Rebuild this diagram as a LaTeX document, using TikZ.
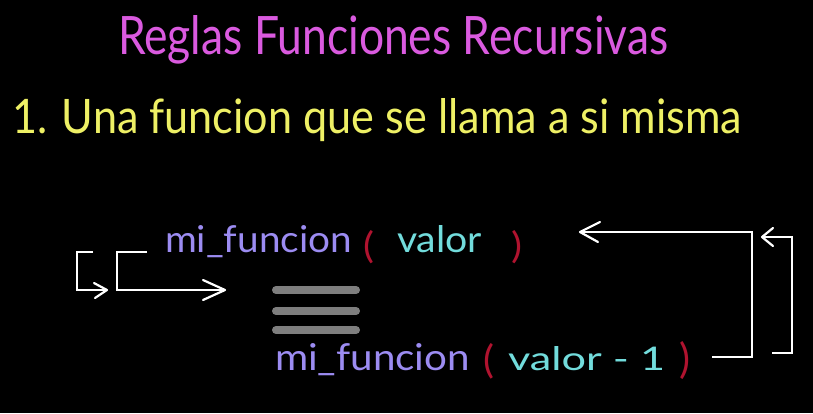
\documentclass[tikz,border=0pt]{standalone}
\usepackage{fontspec}
\setmainfont{Lato}
\usepackage{graphicx}
\definecolor{titlec}{HTML}{DA5ADF}
\definecolor{ylw}{HTML}{EEF065}
\definecolor{lav}{HTML}{9C8CF2}
\definecolor{cyn}{HTML}{72DCDC}
\definecolor{par}{HTML}{B0132F}
\definecolor{bar}{HTML}{7E7E7E}
\tikzset{
  txt/.style={anchor=base west, inner sep=0pt, outer sep=0pt},
  wire/.style={draw=white, line width=2.2pt, line join=miter, line cap=butt},
  head/.style={draw=white, line width=2.2pt, line join=round, line cap=round},
  barline/.style={draw=bar, line width=8pt, line cap=round}
}
\begin{document}
\begin{tikzpicture}[x=1pt,y=-1pt]
\fill[black] (0,0) rectangle (813,413);
\useasboundingbox (0,0) rectangle (813,413);
% title
\node[txt, text=titlec] (title) at (118,54) {\resizebox{550pt}{39pt}{Reglas Funciones Recursivas}};
% rule 1
\node[txt, text=ylw] (rule) at (12,133) {\resizebox{730pt}{35pt}{1. Una funcion que se llama a si misma}};
% top call
\node[txt, text=lav] (f1) at (165,252) {\resizebox{187pt}{27pt}{mi\_funcion}};
\node[txt, text=par] (p1o) at (363,258) {\resizebox{11pt}{28pt}{(}};
\node[txt, text=cyn] (v1) at (397,252) {\resizebox{85pt}{27pt}{valor}};
\node[txt, text=par] (p1c) at (511,258) {\resizebox{11pt}{28pt}{)}};
% bottom call
\node[txt, text=lav] (f2) at (275,370) {\resizebox{195pt}{27pt}{mi\_funcion}};
\node[txt, text=par] (p2o) at (483,373) {\resizebox{11pt}{30pt}{(}};
\node[txt, text=cyn] (v2) at (508,370) {\resizebox{157pt}{24pt}{valor - 1}};
\node[txt, text=par] (p2c) at (679,373) {\resizebox{11pt}{32pt}{)}};
% equals bars
\draw[barline] (276,290) -- (356,290);
\draw[barline] (276,311) -- (356,311);
\draw[barline] (276,330) -- (356,330);
% left small bracket
\coordinate (a1) at (93,252);
\coordinate (a2) at (77,252);
\coordinate (a3) at (77,290);
\coordinate (a4) at (107,290);
\draw[wire] (a1) -- (a2) -- (a3) -- (a4);
\draw[head] (94,283) -- (a4) -- (95,298);
% left long bracket
\coordinate (b1) at (147,252);
\coordinate (b2) at (117,252);
\coordinate (b3) at (117,290);
\coordinate (b4) at (225,290);
\draw[wire] (b1) -- (b2) -- (b3) -- (b4);
\draw[head] (203,280) -- (b4) -- (203,300);
% right long loop
\coordinate (c1) at (712,357);
\coordinate (c2) at (752,357);
\coordinate (c3) at (752,232);
\coordinate (c4) at (580,232);
\draw[wire] (c1) -- (c2) -- (c3) -- (c4);
\draw[head] (600,222) -- (c4) -- (598,242);
% right small loop
\coordinate (d1) at (772,353);
\coordinate (d2) at (792,353);
\coordinate (d3) at (792,237);
\coordinate (d4) at (762,237);
\draw[wire] (d1) -- (d2) -- (d3) -- (d4);
\draw[head] (773,228) -- (d4) -- (773,246);
\end{tikzpicture}
\end{document}
